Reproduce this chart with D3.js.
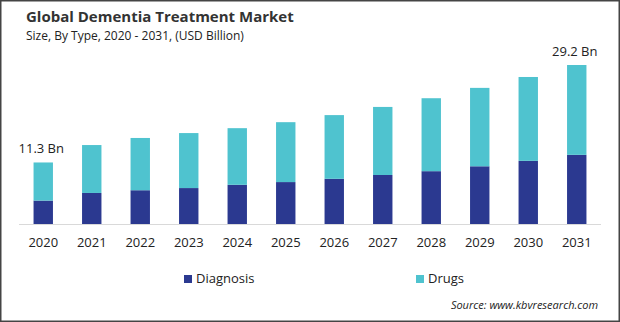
<!DOCTYPE html>
<html>
<head>
<meta charset="utf-8">
<script src="https://cdn.jsdelivr.net/npm/d3@7"></script>
<style>
  html, body { margin: 0; padding: 0; background: #fff; }
  svg { display: block; font-family: "Open Sans", "Noto Sans", sans-serif; }
</style>
</head>
<body>
<div id="chart"></div>
<script>
// market size by type, USD billion
var years = ["2020", "2021", "2022", "2023", "2024", "2025", "2026", "2027", "2028", "2029", "2030", "2031"];
var diagnosis = [4.3, 5.7, 6.2, 6.6, 7.2, 7.7, 8.3, 9.0, 9.7, 10.6, 11.6, 12.7];
var drugs = [7.0, 8.8, 9.6, 10.1, 10.4, 11.0, 11.7, 12.5, 13.4, 14.4, 15.4, 16.5];
var series = ["Diagnosis", "Drugs"];
var colors = ["#2b3990", "#4fc3cf"];
// totals printed on the first and last bar
var endLabels = { "2020": "11.3 Bn", "2031": "29.2 Bn" };

var width = 620, height = 322;

var svg = d3.select("#chart")
    .append("svg")
    .attr("width", width)
    .attr("height", height);

// frame round the whole chart
svg.append("rect")
    .attr("x", 0.75).attr("y", 0.75)
    .attr("width", width - 1.5).attr("height", height - 1.5)
    .attr("fill", "#fff")
    .attr("stroke", "#444")
    .attr("stroke-width", 1.5);

svg.append("text")
    .attr("x", 26).attr("y", 22)
    .attr("font-size", "15px")
    .attr("font-weight", "bold")
    .attr("fill", "#333")
    .text("Global Dementia Treatment Market");

svg.append("text")
    .attr("x", 26).attr("y", 40)
    .attr("font-size", "12px")
    .attr("fill", "#222")
    .text("Size, By Type, 2020 - 2031, (USD Billion)");

var rows = years.map(function (y, i) {
    return { year: y, Diagnosis: diagnosis[i], Drugs: drugs[i] };
});

var x = d3.scaleBand()
    .domain(years)
    .range([19, 601])
    .paddingInner(0.6)
    .paddingOuter(0.3);

var y = d3.scaleLinear()
    .domain([0, 30])
    .range([224, 224 - 30 * 5.445]);

var stack = d3.stack().keys(series);
var layers = stack(rows);

svg.append("g")
    .selectAll("g")
    .data(layers)
    .enter()
    .append("g")
    .attr("fill", function (d, i) { return colors[i]; })
    .selectAll("rect")
    .data(function (d) { return d; })
    .enter()
    .append("rect")
    .attr("x", function (d) { return x(d.data.year); })
    .attr("y", function (d) { return y(d[1]); })
    .attr("width", x.bandwidth())
    .attr("height", function (d) { return y(d[0]) - y(d[1]); });

// baseline
svg.append("line")
    .attr("x1", 19).attr("x2", 601)
    .attr("y1", y(0) + 0.5).attr("y2", y(0) + 0.5)
    .attr("stroke", "#d9d9d9")
    .attr("stroke-width", 1);

var xAxis = svg.append("g")
    .attr("transform", "translate(0," + y(0) + ")")
    .call(d3.axisBottom(x).tickSize(0).tickPadding(14));
xAxis.select(".domain").remove();
xAxis.selectAll("text")
    .attr("font-size", "13px")
    .attr("font-family", "Open Sans, sans-serif")
    .attr("fill", "#222");

var last = layers[layers.length - 1];
svg.append("g")
    .selectAll("text")
    .data(last.filter(function (d) { return endLabels[d.data.year]; }))
    .enter()
    .append("text")
    .attr("x", function (d) { return x(d.data.year) + x.bandwidth() / 2 - 2; })
    .attr("y", function (d) { return y(d[1]) - 9; })
    .attr("text-anchor", "middle")
    .attr("font-size", "13px")
    .attr("fill", "#222")
    .text(function (d) { return endLabels[d.data.year]; });

// legend
var legendX = [184, 416];
var legend = svg.append("g")
    .selectAll("g")
    .data(series)
    .enter()
    .append("g")
    .attr("transform", function (d, i) { return "translate(" + legendX[i] + ",275)"; });
legend.append("rect")
    .attr("width", 8).attr("height", 8)
    .attr("fill", function (d, i) { return colors[i]; });
legend.append("text")
    .attr("x", 12).attr("y", 8)
    .attr("font-size", "13px")
    .attr("fill", "#222")
    .text(function (d) { return d; });

svg.append("text")
    .attr("x", 598).attr("y", 309)
    .attr("text-anchor", "end")
    .attr("font-size", "11px")
    .attr("font-style", "italic")
    .attr("fill", "#222")
    .text("Source: www.kbvresearch.com");
</script>
</body>
</html>
